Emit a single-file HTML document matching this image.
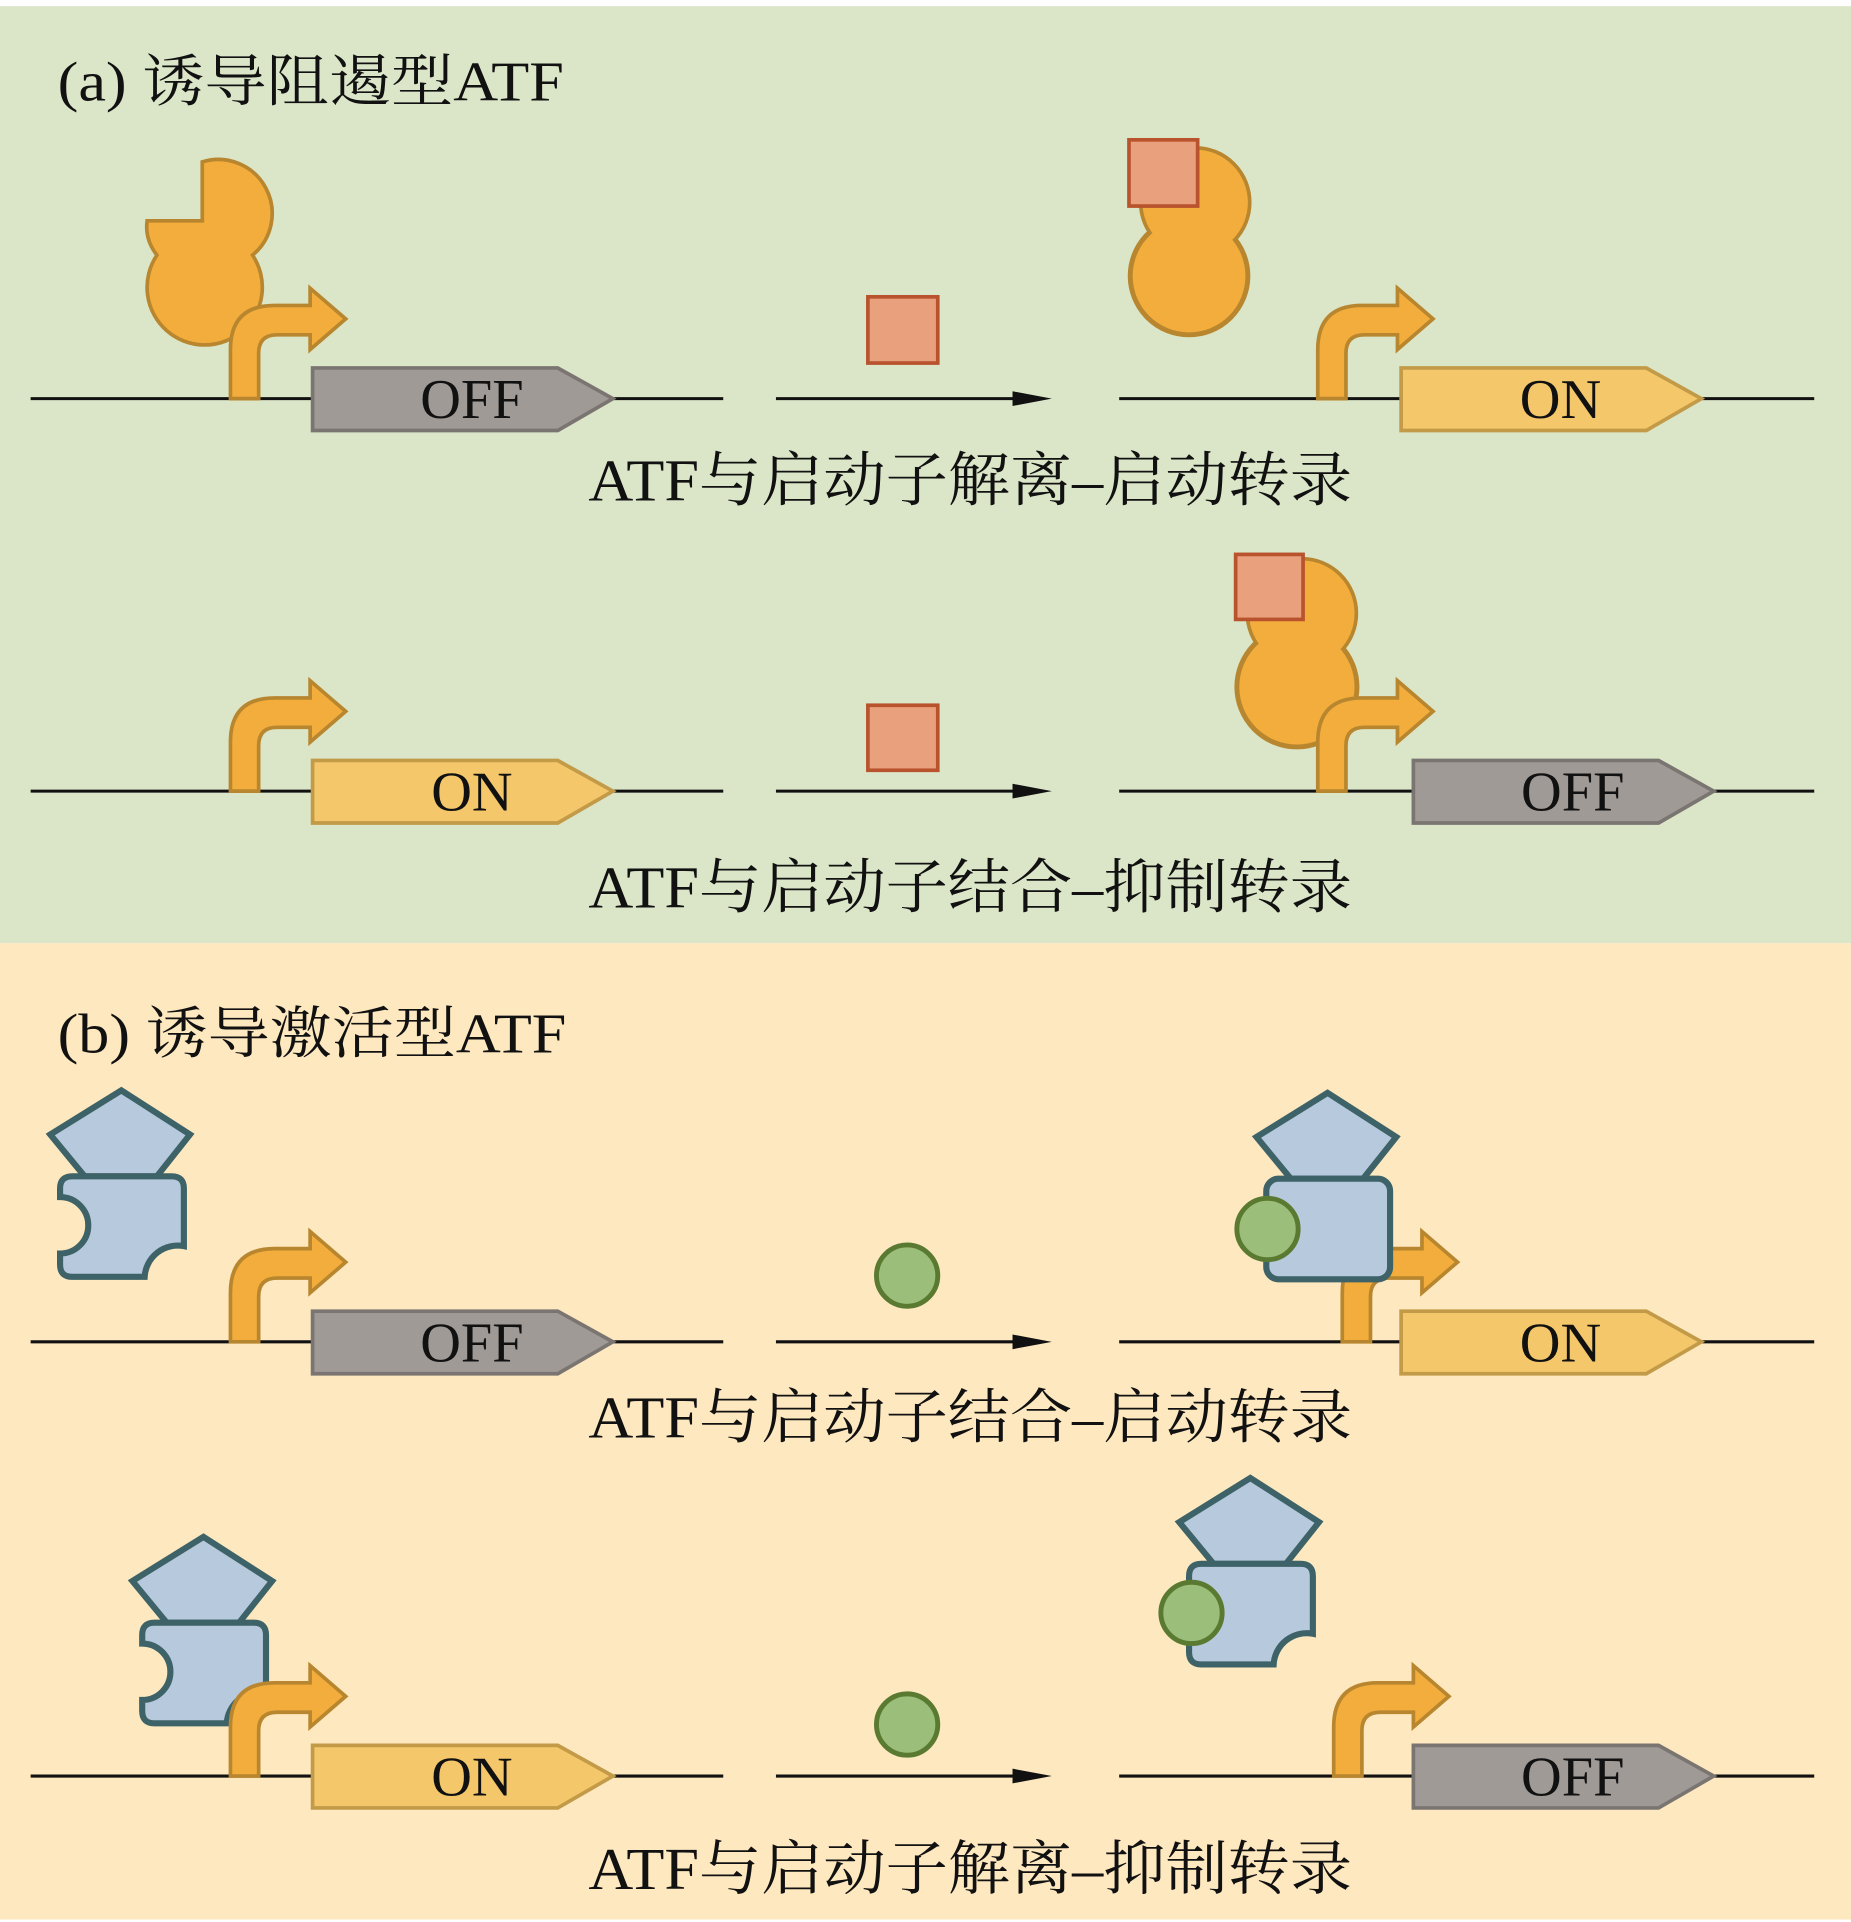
<!DOCTYPE html>
<html><head><meta charset="utf-8"><style>
html,body{margin:0;padding:0;background:#fff}
svg{display:block}
text{font-family:"Liberation Serif","Noto Serif CJK SC",serif;fill:#111}
</style></head><body>
<svg width="1851" height="1922" viewBox="0 0 1510 1567" preserveAspectRatio="none" xmlns="http://www.w3.org/2000/svg">
<defs>
<path id="prom" d="M0,0 V-40 Q0,-76 36,-76 H65 V-90 L94,-65 L65,-40 V-52 H38 Q23,-52 23,-37 V0 Z" fill="#f2ad3c" stroke="#b8862e" stroke-width="3"/>
<path id="gOff" d="M0,-25 H200 L245,0 L200,26 H0 Z" fill="#a09a96" stroke="#7b7572" stroke-width="3"/>
<path id="gOn" d="M0,-25 H200 L245,0 L200,26 H0 Z" fill="#f4c76a" stroke="#c29a48" stroke-width="3"/>
<g id="act">
<polygon points="50,-70 -8,-34 20,0 79,0 106,-34" fill="#b7c9dc" stroke="#3d6268" stroke-width="5" stroke-linejoin="miter"/>
<path d="M10,0 H91 Q101,0 101,10 V57 A27,27 0 0 0 69,82 H10 Q0,82 0,72 V63 A23,23 0 0 0 0,17 V10 Q0,0 10,0 Z" fill="#b7c9dc" stroke="#3d6268" stroke-width="5"/>
</g>
<g id="actPlain">
<polygon points="50,-70 -8,-34 20,0 79,0 106,-34" fill="#b7c9dc" stroke="#3d6268" stroke-width="5"/>
<rect x="0" y="0" width="101" height="82" rx="10" fill="#b7c9dc" stroke="#3d6268" stroke-width="5"/>
</g>
<g id="midArrow">
<line x1="633" y1="0" x2="850" y2="0" stroke="#111" stroke-width="2.5"/>
<polygon points="826,-6 858,0 826,6" fill="#111"/>
</g>
</defs>
<rect x="0" y="0" width="1510" height="1567" fill="#fff"/>
<rect x="0" y="5" width="1510" height="764" fill="#dbe6c8"/>
<rect x="0" y="769" width="1510" height="796" fill="#fde8bf"/>

<text x="47" y="82" font-size="46" textLength="413" lengthAdjust="spacingAndGlyphs">(a) 诱导阻遏型ATF</text>

<g stroke="#111" stroke-width="2.5">
<line x1="25" y1="325" x2="590" y2="325"/><line x1="913" y1="325" x2="1480" y2="325"/>
<line x1="25" y1="645" x2="590" y2="645"/><line x1="913" y1="645" x2="1480" y2="645"/>
<line x1="25" y1="1094" x2="590" y2="1094"/><line x1="913" y1="1094" x2="1480" y2="1094"/>
<line x1="25" y1="1448" x2="590" y2="1448"/><line x1="913" y1="1448" x2="1480" y2="1448"/>
</g>
<use href="#midArrow" y="325"/><use href="#midArrow" y="645"/>
<use href="#midArrow" y="1094"/><use href="#midArrow" y="1448"/>

<path d="M165,132 A44,44 0 0 1 206,208 A47,47 0 1 1 128,208 Q118,195 120,180 H165 Z" fill="#f2ad3c" stroke="#b8862e" stroke-width="3"/>
<use href="#prom" x="188" y="325"/>
<use href="#gOff" x="255" y="325"/>
<text x="385" y="341" font-size="46" text-anchor="middle">OFF</text>
<rect x="708" y="242" width="57" height="54" fill="#e9a07c" stroke="#b8532e" stroke-width="3"/>
<g>
<circle cx="975" cy="165" r="43" fill="#f2ad3c" stroke="#b8862e" stroke-width="6"/>
<circle cx="970" cy="225" r="47" fill="#f2ad3c" stroke="#b8862e" stroke-width="6"/>
<circle cx="975" cy="165" r="43" fill="#f2ad3c"/>
<circle cx="970" cy="225" r="46" fill="#f2ad3c"/>
</g>
<rect x="921" y="114" width="56" height="54" fill="#e9a07c" stroke="#b8532e" stroke-width="3"/>
<use href="#prom" x="1075" y="325"/>
<use href="#gOn" x="1143" y="325"/>
<text x="1273" y="341" font-size="46" text-anchor="middle">ON</text>
<text x="480" y="408" font-size="48" textLength="623" lengthAdjust="spacingAndGlyphs">ATF与启动子解离–启动转录</text>

<use href="#prom" x="188" y="645"/>
<use href="#gOn" x="255" y="645"/>
<text x="385" y="661" font-size="46" text-anchor="middle">ON</text>
<rect x="708" y="575" width="57" height="53" fill="#e9a07c" stroke="#b8532e" stroke-width="3"/>
<g>
<circle cx="1062" cy="500" r="43" fill="#f2ad3c" stroke="#b8862e" stroke-width="6"/>
<circle cx="1058" cy="560" r="48" fill="#f2ad3c" stroke="#b8862e" stroke-width="6"/>
<circle cx="1062" cy="500" r="43" fill="#f2ad3c"/>
<circle cx="1058" cy="560" r="47" fill="#f2ad3c"/>
</g>
<rect x="1008" y="452" width="55" height="53" fill="#e9a07c" stroke="#b8532e" stroke-width="3"/>
<use href="#prom" x="1075" y="645"/>
<use href="#gOff" x="1153" y="645"/>
<text x="1283" y="661" font-size="46" text-anchor="middle">OFF</text>
<text x="480" y="740" font-size="48" textLength="623" lengthAdjust="spacingAndGlyphs">ATF与启动子结合–抑制转录</text>

<text x="47" y="858" font-size="46" textLength="415" lengthAdjust="spacingAndGlyphs">(b) 诱导激活型ATF</text>

<use href="#act" x="49" y="959"/>
<use href="#prom" x="188" y="1094"/>
<use href="#gOff" x="255" y="1094"/>
<text x="385" y="1110" font-size="46" text-anchor="middle">OFF</text>
<circle cx="740" cy="1040" r="25" fill="#9bbf7a" stroke="#5a7a32" stroke-width="4"/>
<use href="#prom" x="1095" y="1094"/>
<use href="#actPlain" x="1033" y="961"/>
<circle cx="1034" cy="1002" r="25" fill="#9bbf7a" stroke="#5a7a32" stroke-width="4"/>
<use href="#gOn" x="1143" y="1094"/>
<text x="1273" y="1110" font-size="46" text-anchor="middle">ON</text>
<text x="480" y="1172" font-size="48" textLength="623" lengthAdjust="spacingAndGlyphs">ATF与启动子结合–启动转录</text>

<use href="#act" x="116" y="1323"/>
<use href="#prom" x="188" y="1448"/>
<use href="#gOn" x="255" y="1448"/>
<text x="385" y="1464" font-size="46" text-anchor="middle">ON</text>
<circle cx="740" cy="1406" r="25" fill="#9bbf7a" stroke="#5a7a32" stroke-width="4"/>
<use href="#act" x="970" y="1275"/>
<circle cx="972" cy="1315" r="25" fill="#9bbf7a" stroke="#5a7a32" stroke-width="4"/>
<use href="#prom" x="1088" y="1448"/>
<use href="#gOff" x="1153" y="1448"/>
<text x="1283" y="1464" font-size="46" text-anchor="middle">OFF</text>
<text x="480" y="1540" font-size="48" textLength="623" lengthAdjust="spacingAndGlyphs">ATF与启动子解离–抑制转录</text>
</svg>
</body></html>
